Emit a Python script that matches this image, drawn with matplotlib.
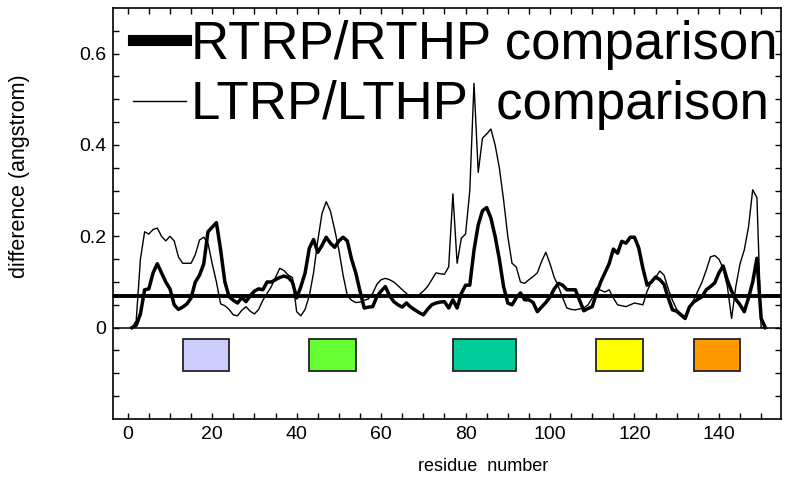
import matplotlib
matplotlib.use("Agg")
import matplotlib.pyplot as plt
from matplotlib.lines import Line2D

plt.rcParams['font.family'] = ['Liberation Sans', 'DejaVu Sans']

# residue numbers 1..151
residues = list(range(1, 152))

# RTRP/RTHP comparison (thick line)
rt_diff = [
    0.000, 0.005, 0.030, 0.083, 0.085, 0.120, 0.140, 0.120, 0.100, 0.085,
    0.050, 0.040, 0.045, 0.052, 0.065, 0.100, 0.115, 0.140, 0.210, 0.220,
    0.230, 0.170, 0.100, 0.068, 0.060, 0.054, 0.066, 0.057, 0.070, 0.080,
    0.085, 0.083, 0.100, 0.100, 0.105, 0.110, 0.113, 0.110, 0.100, 0.065,
    0.090, 0.120, 0.174, 0.193, 0.165, 0.180, 0.198, 0.185, 0.176, 0.190,
    0.198, 0.190, 0.150, 0.120, 0.080, 0.043, 0.045, 0.046, 0.068, 0.080,
    0.090, 0.070, 0.057, 0.050, 0.045, 0.054, 0.045, 0.039, 0.033, 0.028,
    0.040, 0.050, 0.054, 0.056, 0.057, 0.043, 0.061, 0.043, 0.075, 0.093,
    0.093, 0.170, 0.225, 0.256, 0.263, 0.240, 0.200, 0.150, 0.090, 0.054,
    0.050, 0.065, 0.076, 0.061, 0.061, 0.055, 0.035, 0.045, 0.055, 0.067,
    0.085, 0.097, 0.093, 0.083, 0.083, 0.083, 0.060, 0.037, 0.042, 0.046,
    0.075, 0.100, 0.120, 0.140, 0.172, 0.163, 0.189, 0.185, 0.198, 0.198,
    0.175, 0.130, 0.093, 0.100, 0.111, 0.105, 0.095, 0.065, 0.039, 0.036,
    0.028, 0.020, 0.045, 0.056, 0.062, 0.068, 0.083, 0.090, 0.098, 0.120,
    0.135, 0.104, 0.080, 0.062, 0.050, 0.035, 0.065, 0.100, 0.152, 0.020,
    0.000,
]

# LTRP/LTHP comparison (thin line)
lt_diff = [
    0.000, 0.015, 0.150, 0.210, 0.205, 0.215, 0.218, 0.200, 0.190, 0.200,
    0.190, 0.155, 0.141, 0.141, 0.141, 0.160, 0.192, 0.198, 0.185, 0.140,
    0.100, 0.052, 0.048, 0.040, 0.028, 0.026, 0.038, 0.046, 0.036, 0.030,
    0.040, 0.060, 0.075, 0.090, 0.110, 0.130, 0.125, 0.115, 0.110, 0.035,
    0.026, 0.040, 0.070, 0.120, 0.190, 0.250, 0.276, 0.255, 0.215, 0.170,
    0.115, 0.070, 0.060, 0.055, 0.056, 0.060, 0.063, 0.075, 0.095, 0.105,
    0.108, 0.105, 0.100, 0.092, 0.083, 0.075, 0.067, 0.068, 0.072, 0.080,
    0.090, 0.105, 0.120, 0.118, 0.117, 0.133, 0.293, 0.141, 0.196, 0.205,
    0.300, 0.535, 0.340, 0.415, 0.424, 0.435, 0.400, 0.350, 0.280, 0.200,
    0.141, 0.133, 0.100, 0.097, 0.105, 0.112, 0.120, 0.145, 0.165, 0.140,
    0.110, 0.090, 0.065, 0.043, 0.040, 0.039, 0.041, 0.043, 0.050, 0.065,
    0.087, 0.082, 0.078, 0.083, 0.065, 0.050, 0.048, 0.046, 0.050, 0.054,
    0.052, 0.050, 0.080, 0.100, 0.110, 0.124, 0.115, 0.085, 0.060, 0.040,
    0.030, 0.024, 0.045, 0.060, 0.080, 0.100, 0.126, 0.155, 0.158, 0.150,
    0.130, 0.090, 0.020, 0.090, 0.140, 0.170, 0.220, 0.302, 0.285, 0.000,
    0.000,
]

threshold = 0.07

# coloured segments under the curves
seg_start = [13, 43, 77, 111, 134]
seg_end = [24, 54, 92, 122, 145]
seg_colors = ['#CCCCFF', '#66FF33', '#00CC99', '#FFFF00', '#FF9900']
seg_low, seg_high = -0.095, -0.025

fig = plt.figure(figsize=(7.9, 4.84), dpi=100)
ax = fig.add_axes([0.143, 0.1343, 0.8456, 0.8492])

ax.axhline(0, color='black', lw=1.1, zorder=1)
ax.axhline(threshold, color='black', lw=2.8, zorder=2)
ax.plot(residues, lt_diff, color='black', lw=1.0, zorder=3)
ax.plot(residues, rt_diff, color='black', lw=2.5, zorder=4)

widths = [e - s for s, e in zip(seg_start, seg_end)]
ax.bar(seg_start, seg_high - seg_low, width=widths, bottom=seg_low,
       align='edge', color=seg_colors, edgecolor='#222222', linewidth=1.3,
       zorder=3)

ax.set_xlim(-3.5, 154.7)
ax.set_ylim(-0.2, 0.7)
ax.set_xticks([0, 20, 40, 60, 80, 100, 120, 140])
ax.set_xticks(range(0, 155, 5), minor=True)
ax.set_yticks([0, 0.2, 0.4, 0.6])
ax.set_yticklabels(['0', '0.2', '0.4', '0.6'])
ax.set_yticks([-0.15 + 0.05 * i for i in range(17)], minor=True)
ax.tick_params(which='both', direction='in', top=True, right=True,
               length=4, width=1.0, labelsize=14, pad=5)
for sp in ax.spines.values():
    sp.set_linewidth(1.2)

ax.set_xlabel('residue  number', fontsize=13)
ax.xaxis.set_label_coords(0.554, -0.095)
ax.set_ylabel('difference (angstrom)', fontsize=15.5)
ax.yaxis.set_label_coords(-0.124, 0.591)

handles = [Line2D([], [], color='black', lw=8),
           Line2D([], [], color='black', lw=1.0)]
ax.legend(handles, ['RTRP/RTHP comparison', 'LTRP/LTHP  comparison'],
          loc='upper left', bbox_to_anchor=(0.026, 0.978), frameon=False,
          fontsize=38, handlelength=1.0, handletextpad=0.1,
          labelspacing=0.2, borderaxespad=0, borderpad=0.05)

fig.savefig('out.png', dpi=100)
